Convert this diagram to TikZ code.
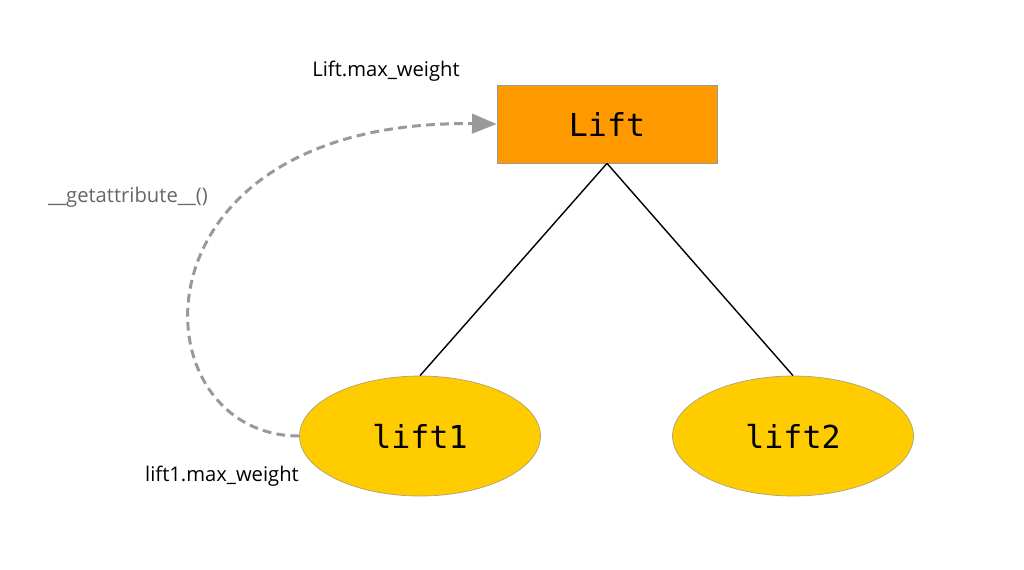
\documentclass[tikz,border=0pt]{standalone}
\usepackage{fontspec}
\setmainfont{Open Sans}
\newfontfamily\codefont{DejaVu Sans Mono}
\usetikzlibrary{arrows.meta,shapes.geometric}
\definecolor{liftorange}{HTML}{FF9900}
\definecolor{liftyellow}{HTML}{FFCC00}
\definecolor{attrgray}{HTML}{999999}
\definecolor{labelgray}{HTML}{666666}
\begin{document}
\begin{tikzpicture}
[
x=0.02cm, y=-0.02cm,
class/.style={rectangle, fill=liftorange, draw=attrgray, thin, inner sep=0pt, minimum width=4.4cm, minimum height=1.56cm, font=\codefont\fontsize{18}{20}\selectfont},
instance/.style={ellipse, fill=liftyellow, draw=attrgray!80!liftyellow, thin, inner sep=0pt, minimum width=4.82cm, minimum height=2.4cm, font=\codefont\fontsize{18}{20}\selectfont},
attr/.style={font=\fontsize{11.5}{13}\selectfont},
lookup/.style={draw=attrgray, line width=1.7pt, dash pattern=on 5pt off 3pt, -{Triangle[length=14pt, width=11pt]}}
]
\useasboundingbox (0,0) rectangle (1024,569);
%Nodes
\node[class]        (Lift)      at (607,124)        {Lift};
\node[instance]     (lift1)     at (420,436)        {lift1};
\node[instance]     (lift2)     at (793,436)        {lift2};
\node[attr]         (cls_attr)  at (386,71)         {Lift.max\_weight};
\node[attr]         (inst_attr) at (222,476)        {lift1.max\_weight};
\node[attr, text=labelgray] (getattr) at (128,197) {\_\_getattribute\_\_()};

%Lines
\draw[line width=0.8pt] (Lift.south) -- (lift1.north);
\draw[line width=0.8pt] (Lift.south) -- (lift2.north);
\draw[lookup] (lift1.west) .. controls +(-165,0) and +(-375,-5) .. (Lift.west);
\end{tikzpicture}
\end{document}
